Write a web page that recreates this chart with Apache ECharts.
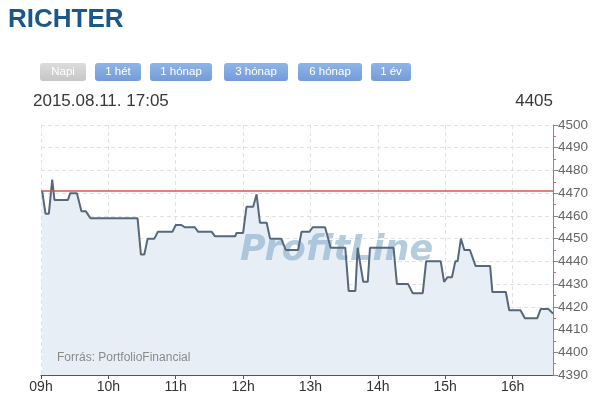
<!DOCTYPE html>
<html>
<head>
<meta charset="utf-8">
<script src="https://cdn.jsdelivr.net/npm/echarts@6/dist/echarts.min.js"></script>
<style>
html,body{margin:0;padding:0;background:#fff;}
#chart{width:606px;height:405px;}
</style>
</head>
<body>
<div id="chart"></div>
<script>
// ---- data ----
const hourLabels = ['09h','10h','11h','12h','13h','14h','15h','16h'];
// minutes after 09:00
const minutes = [1,4,7,10,12,24,26,32,36,40,44,86,89,92,95,101,104,117,120,125,128,137,140,152,155,173,174,180,183,189,192,195,201,204,214,218,229,232,239,242,253,258,271,274,280,282,287,291,293,314,317,327,331,340,343,356,359,362,366,369,371,374,377,382,387,400,402,414,417,427,431,442,445,452,456];
const prices = [4471,4461,4461,4476,4467,4467,4470,4470,4462,4462,4459,4459,4443,4443,4450,4450,4453,4453,4456,4456,4455,4455,4453,4453,4451,4451,4452.5,4452.5,4464,4464,4469.5,4457,4457,4450,4450,4445,4445,4453,4453,4455,4455,4446,4446,4427,4427,4446,4431,4431,4446,4446,4430,4430,4426,4426,4440,4440,4431,4433,4433,4440,4440,4450,4445,4445,4438,4438,4426.5,4426.5,4418.5,4418.5,4415,4415,4419,4419,4417];
const referencePrice = 4471;
const yMin = 4390, yMax = 4500, yStep = 10;
const xMax = 456;
const rangeButtons = ['Napi','1 hét','1 hónap','3 hónap','6 hónap','1 év'];
const titleText = 'RICHTER';
const dateText = '2015.08.11. 17:05';
const lastPriceText = '4405';
const sourceText = 'Forrás: PortfolioFinancial';
const watermarkText = 'ProfitLine';

// ---- layout ----
const FONT = '"Liberation Sans", Arial, sans-serif';
const buttonLayout = [[40,46],[95,46],[150,62],[224,64],[298,64],[371,40]];

const seriesData = minutes.map((m, i) => [m, prices[i]]);

const graphics = [
  { type:'text', left:8, top:7, style:{ text:titleText, fill:'#1b5888', font:'bold 26px ' + FONT } },
  { type:'text', left:33, top:93, style:{ text:dateText, fill:'#383838', font:'17px ' + FONT } },
  { type:'text', right:53, top:93, style:{ text:lastPriceText, fill:'#383838', font:'17px ' + FONT } },
  { type:'text', left:57, top:352, z:5, style:{ text:sourceText, fill:'#8a8a8a', font:'12px ' + FONT } },
  { type:'text', left:240, top:233, z:2, style:{ text:watermarkText, fill:'rgba(140,178,205,0.65)', font:'italic bold 35px "DejaVu Sans", sans-serif' } }
];
rangeButtons.forEach((label, i) => {
  const [x, w] = buttonLayout[i];
  const isActive = i === 0;
  graphics.push({
    type:'group', left:x, top:63,
    children:[
      { type:'rect', shape:{ x:0, y:0, width:w, height:18, r:3 },
        style:{ fill: isActive
          ? new echarts.graphic.LinearGradient(0,0,0,1,[{offset:0,color:'#dcdcdc'},{offset:1,color:'#c6c6c6'}])
          : new echarts.graphic.LinearGradient(0,0,0,1,[{offset:0,color:'#8fb4e8'},{offset:1,color:'#739cd9'}]) } },
      { type:'text', x:w/2, y:9, style:{ text:label, fill:'#fff', font:'11.5px ' + FONT, align:'center', verticalAlign:'middle' } }
    ]
  });
});

const chart = echarts.init(document.getElementById('chart'));
chart.setOption({
  animation:false,
  grid:{ left:41, right:53, top:125, bottom:30 },
  graphic: graphics,
  xAxis:{
    type:'value', min:0, max:xMax, interval:60,
    axisLine:{ show:true, onZero:false, lineStyle:{ color:'#555', width:1 } },
    axisTick:{ show:true, length:4, lineStyle:{ color:'#555' } },
    axisLabel:{ color:'#333', fontSize:14, fontFamily:FONT, margin:5, showMaxLabel:false,
      formatter: v => (v % 60 === 0 ? (hourLabels[v/60] || '') : '') },
    splitLine:{ show:true, lineStyle:{ color:'#e2e2e2', type:[4,3] } }
  },
  yAxis:{
    type:'value', position:'right', min:yMin, max:yMax, interval:yStep,
    axisLine:{ show:true, onZero:false, lineStyle:{ color:'#888' } },
    axisTick:{ show:true, length:5, lineStyle:{ color:'#888' } },
    minorTick:{ show:true, splitNumber:2, length:3, lineStyle:{ color:'#e06666' } },
    axisLabel:{ color:'#666', fontSize:13.5, fontFamily:FONT, margin:5, formatter: v => String(v) },
    splitLine:{ show:true, lineStyle:{ color:'#e2e2e2', type:[4,3] } }
  },
  series:[
    { type:'line', data:seriesData, symbol:'none', z:1,
      lineStyle:{ width:0 },
      areaStyle:{ color:'#e7eef6', opacity:1 } },
    { type:'line', data:seriesData, symbol:'none', z:3,
      lineStyle:{ color:'#56687a', width:2 },
      markLine:{ silent:true, symbol:'none', label:{ show:false },
        lineStyle:{ color:'#d9534f', width:1.5, type:'solid' },
        data:[{ yAxis:referencePrice }] } }
  ]
});
</script>
</body>
</html>
